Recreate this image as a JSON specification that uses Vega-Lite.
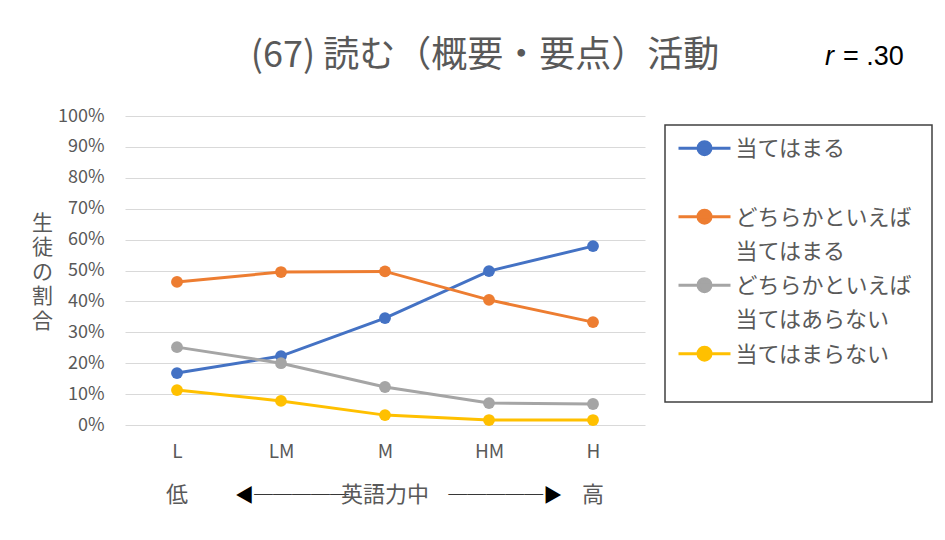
{
  "$schema": "https://vega.github.io/schema/vega-lite/v6.json",
  "width": 520,
  "height": 309,
  "autosize": {"type": "none"},
  "padding": {"left": 125, "top": 116, "right": 300, "bottom": 115},
  "background": "white",
  "config": {
    "font": "Noto Sans CJK JP",
    "view": {"stroke": null},
    "axisY": {
      "labelOverlap": false, "format": ".0%", "labelFontSize": 18, "labelColor": "#595959", "labelPadding": 21,
      "ticks": false, "domain": false, "gridColor": "#D9D9D9", "gridWidth": 1,
      "titleAngle": 0, "titleFontSize": 21, "titleColor": "#595959", "titleFontWeight": "normal",
      "titleX": -83, "titleY": 96, "titleAlign": "center", "titleBaseline": "top", "titleLineHeight": 24.5
    }
  },
  "title": {"text": "(67) 読む（概要・要点）活動", "fontSize": 36, "fontWeight": "normal", "color": "#595959", "anchor": "middle", "dx": 100, "dy": 74, "offset": 42, "font": "Noto Sans CJK JP"},
  "datasets": {
    "series": [
      {"level": "L", "answer": "当てはまる|", "share": 0.168},
      {"level": "LM", "answer": "当てはまる|", "share": 0.223},
      {"level": "M", "answer": "当てはまる|", "share": 0.346},
      {"level": "HM", "answer": "当てはまる|", "share": 0.498},
      {"level": "H", "answer": "当てはまる|", "share": 0.579},
      {"level": "L", "answer": "どちらかといえば|当てはまる", "share": 0.463},
      {"level": "LM", "answer": "どちらかといえば|当てはまる", "share": 0.495},
      {"level": "M", "answer": "どちらかといえば|当てはまる", "share": 0.497},
      {"level": "HM", "answer": "どちらかといえば|当てはまる", "share": 0.405},
      {"level": "H", "answer": "どちらかといえば|当てはまる", "share": 0.333},
      {"level": "L", "answer": "どちらかといえば|当てはあらない", "share": 0.252},
      {"level": "LM", "answer": "どちらかといえば|当てはあらない", "share": 0.200},
      {"level": "M", "answer": "どちらかといえば|当てはあらない", "share": 0.123},
      {"level": "HM", "answer": "どちらかといえば|当てはあらない", "share": 0.071},
      {"level": "H", "answer": "どちらかといえば|当てはあらない", "share": 0.068},
      {"level": "L", "answer": "当てはまらない|", "share": 0.113},
      {"level": "LM", "answer": "当てはまらない|", "share": 0.078},
      {"level": "M", "answer": "当てはまらない|", "share": 0.032},
      {"level": "HM", "answer": "当てはまらない|", "share": 0.016},
      {"level": "H", "answer": "当てはまらない|", "share": 0.016}
    ],
    "scaleNotes": [
      {"level": "L", "note": "低"},
      {"level": "M", "note": "英語力中"},
      {"level": "H", "note": "高"}
    ],
    "corr": [{"level": "H", "sym": "r", "val": "= .30"}]
  },
  "layer": [
    {
      "data": {"name": "series"},
      "mark": {"type": "line", "strokeWidth": 3, "point": {"filled": true, "size": 140, "opacity": 1}},
      "encoding": {
        "x": {
          "field": "level", "type": "ordinal",
          "scale": {"type": "point", "domain": ["L", "LM", "M", "HM", "H"], "padding": 0.5},
          "axis": {
            "labelAngle": 0, "labelFontSize": 19, "labelColor": "#595959", "labelPadding": 17,
            "ticks": false, "domain": false, "grid": false,
            "title": "◀─────　　　　　 ─────▶",
            "titleFontSize": 19, "titleColor": "#000000", "titleFontWeight": "normal",
            "titleX": 273, "titleY": 70, "titleAlign": "center", "titleBaseline": "middle"
          }
        },
        "y": {
          "field": "share", "type": "quantitative",
          "scale": {"domain": [0, 1]},
          "axis": {"values": [0, 0.1, 0.2, 0.3, 0.4, 0.5, 0.6, 0.7, 0.8, 0.9, 1], "title": ["生", "徒", "の", "割", "合"]}
        },
        "color": {
          "field": "answer", "type": "nominal",
          "scale": {
            "domain": ["当てはまる|", "どちらかといえば|当てはまる", "どちらかといえば|当てはあらない", "当てはまらない|"],
            "range": ["#4472C4", "#ED7D31", "#A5A5A5", "#FFC000"]
          },
          "legend": {
            "orient": "none", "legendX": 540, "legendY": 9, "title": null,
            "labelExpr": "split(datum.label, '|')",
            "labelFontSize": 22, "labelColor": "#595959", "labelBaseline": "alphabetic",
            "labelLimit": 400, "labelOffset": 20, "symbolOffset": 8.5,
            "symbolType": "M-4.333,-1.3L4.333,-1.3M-1.083,-1.3A1.083,1.083,0,1,1,1.083,-1.3A1.083,1.083,0,1,1,-1.083,-1.3Z",
            "symbolSize": 144, "symbolStrokeWidth": 3, "symbolOpacity": 1,
            "strokeColor": "#404040", "padding": 20, "rowPadding": 9.5,
            "encode": {
              "symbols": {"update": {"fill": {"scale": "color", "field": "value"}}},
              "labels": {"update": {"lineHeight": {"signal": "datum.value == '当てはまらない|' ? 16.5 : 34"}}},
              "legend": {"update": {"strokeWidth": {"value": 1.5}}}
            }
          }
        }
      }
    },
    {
      "data": {"name": "scaleNotes"},
      "mark": {"type": "text", "fontSize": 22, "color": "#595959", "baseline": "middle", "align": "center"},
      "encoding": {
        "x": {"field": "level", "type": "ordinal"},
        "y": {"datum": -0.2265, "axis": {"values": [0, 0.1, 0.2, 0.3, 0.4, 0.5, 0.6, 0.7, 0.8, 0.9, 1], "title": ["生", "徒", "の", "割", "合"]}},
        "text": {"field": "note"}
      }
    },
    {
      "data": {"name": "corr"},
      "mark": {"type": "text", "fontSize": 27, "color": "#000000", "baseline": "middle", "align": "left", "fontStyle": "italic", "dx": 232, "font": "Liberation Sans"},
      "encoding": {
        "x": {"field": "level", "type": "ordinal"},
        "y": {"datum": 1.19, "axis": {"values": [0, 0.1, 0.2, 0.3, 0.4, 0.5, 0.6, 0.7, 0.8, 0.9, 1], "title": ["生", "徒", "の", "割", "合"]}},
        "text": {"field": "sym"}
      }
    },
    {
      "data": {"name": "corr"},
      "mark": {"type": "text", "fontSize": 27, "color": "#000000", "baseline": "middle", "align": "left", "dx": 250, "font": "Liberation Sans"},
      "encoding": {
        "x": {"field": "level", "type": "ordinal"},
        "y": {"datum": 1.19, "axis": {"values": [0, 0.1, 0.2, 0.3, 0.4, 0.5, 0.6, 0.7, 0.8, 0.9, 1], "title": ["生", "徒", "の", "割", "合"]}},
        "text": {"field": "val"}
      }
    }
  ]
}
